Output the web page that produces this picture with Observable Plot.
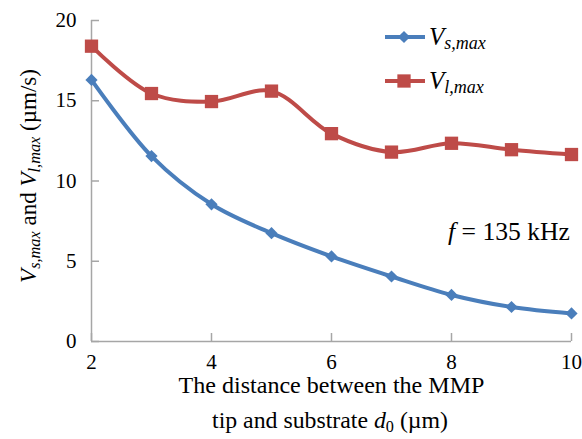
<!DOCTYPE html>
<html><head><meta charset="utf-8">
<script src="https://cdn.jsdelivr.net/npm/d3@7"></script>
<script src="https://cdn.jsdelivr.net/npm/@observablehq/plot@0.6"></script>
<style>
body{margin:0;background:#fff}
</style>
</head><body><div id="chart"></div>
<script>
const distance = [2, 3, 4, 5, 6, 7, 8, 9, 10];
const vsMax = [16.3, 11.55, 8.55, 6.75, 5.3, 4.05, 2.9, 2.15, 1.75];
const vlMax = [18.4, 15.45, 14.95, 15.6, 12.95, 11.8, 12.35, 11.95, 11.65];
const xTicks = [2, 4, 6, 8, 10];
const yTicks = [0, 5, 10, 15, 20];
const seriesNames = ["Vs,max", "Vl,max"];
const seriesColors = ["#4a7ebb", "#be4b48"];

const sData = distance.map((d, i) => ({d, v: vsMax[i], s: seriesNames[0]}));
const lData = distance.map((d, i) => ({d, v: vlMax[i], s: seriesNames[1]}));
const axisGray = "#a6a6a6";
const font = "Liberation Serif";

const plot = Plot.plot({
  width: 582, height: 439,
  marginLeft: 91, marginRight: 11, marginTop: 20, marginBottom: 98,
  style: {background: "#fff", color: "#000"},
  x: {domain: [2, 10]},
  y: {domain: [0, 20]},
  color: {domain: seriesNames, range: seriesColors},
  marks: [
    Plot.ruleX([2], {stroke: axisGray, strokeWidth: 1.5}),
    Plot.ruleY([0], {stroke: axisGray, strokeWidth: 1.5}),
    Plot.axisX({ticks: xTicks, tickSize: -8, tickFormat: () => "", label: null, stroke: axisGray, strokeWidth: 1.5}),
    Plot.axisY({ticks: yTicks, tickSize: -8, tickFormat: () => "", label: null, stroke: axisGray, strokeWidth: 1.5}),
    Plot.axisX({ticks: xTicks, tickSize: 0, tickPadding: 13, label: null, fontSize: 21, fill: "#000"}),
    Plot.axisY({ticks: yTicks, tickSize: 0, tickPadding: 15, label: null, fontSize: 21, fill: "#000"}),
    Plot.line(lData, {x: "d", y: "v", stroke: "s", curve: "catmull-rom", strokeWidth: 4}),
    Plot.line(sData, {x: "d", y: "v", stroke: "s", curve: "catmull-rom", strokeWidth: 4}),
    Plot.dot(lData, {x: "d", y: "v", fill: "s", symbol: "square", r: 7.5}),
    Plot.dot(sData, {x: "d", y: "v", fill: "s", symbol: "diamond2", r: 5.5})
  ]
});
document.getElementById("chart").appendChild(plot);

const svg = d3.select(plot);
svg.attr("font-family", font);
function sub(t, main, subText, mainSize, subSize, shift) {
  t.append("tspan").attr("font-style", "italic").attr("font-size", mainSize).text(main);
  t.append("tspan").attr("font-style", "italic").attr("font-size", subSize).attr("dy", shift).text(subText);
  return t;
}
// scale a text (drawn at origin) so that its advance length equals the target
function fit(t, target, pre, post) {
  t.attr("font-family", font);
  const len = t.node().getComputedTextLength();
  const k = len > 0 && isFinite(len) ? target / len : 1;
  t.attr("transform", `${pre} scale(${k})${post || ""}`);
}
// Y axis title
const yl = svg.append("text").attr("x", 0).attr("y", 0)
  .attr("text-anchor", "middle")
  .attr("font-size", 24).attr("fill", "#000");
sub(yl, "V", "s,max", 24, 17, 4);
yl.append("tspan").attr("dy", -4).text(" and ");
sub(yl, "V", "l,max", 24, 17, 4);
yl.append("tspan").attr("dy", -4).text(" (\u00b5m/s)");
fit(yl, 214, "translate(36,176) rotate(-90)");

// X axis title
const xt1 = svg.append("text").attr("text-anchor", "middle")
  .attr("font-size", 23.5).attr("fill", "#000")
  .text("The distance between the MMP");
fit(xt1, 306, "translate(331.5,393)");
const xt2 = svg.append("text").attr("text-anchor", "middle")
  .attr("font-size", 23.5).attr("fill", "#000");
xt2.append("tspan").text("tip and substrate ");
xt2.append("tspan").attr("font-style", "italic").text("d");
xt2.append("tspan").attr("font-size", 16).attr("dy", 4).text("0");
xt2.append("tspan").attr("dy", -4).text(" (\u00b5m)");
fit(xt2, 236, "translate(330,428)");

// Legend
const legendY = [37, 81];
const legendSymbols = [d3.symbolDiamond2, d3.symbolSquare];
const legendSizes = [5.5, 7.5];
seriesNames.forEach((name, i) => {
  const g = svg.append("g");
  g.append("line").attr("x1", 385).attr("x2", 425).attr("y1", legendY[i]).attr("y2", legendY[i])
    .attr("stroke", seriesColors[i]).attr("stroke-width", 4);
  g.append("path").attr("transform", `translate(404,${legendY[i]})`)
    .attr("d", d3.symbol(legendSymbols[i], Math.PI * legendSizes[i] ** 2)())
    .attr("fill", seriesColors[i]);
  const t = g.append("text").attr("x", 429).attr("y", legendY[i] + 8)
    .attr("text-anchor", "start").attr("fill", "#000").attr("font-family", font);
  sub(t, "V", name.slice(1), 25, 18, 4);
});

// Annotation
const ann = svg.append("text").attr("text-anchor", "end")
  .attr("font-size", 23).attr("fill", "#000");
ann.append("tspan").attr("font-style", "italic").text("f");
ann.append("tspan").text(" = 135 kHz");
fit(ann, 122, "translate(570,240)");

svg.selectAll("text").attr("font-family", font);
svg.selectAll("g").filter(function() { return this.hasAttribute("font-family"); }).attr("font-family", font);
</script>
</body></html>
